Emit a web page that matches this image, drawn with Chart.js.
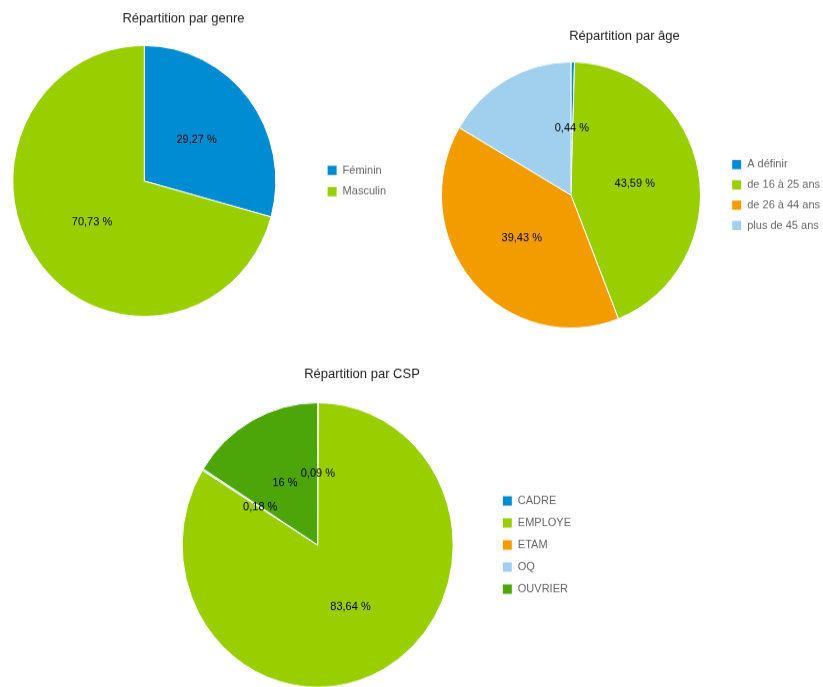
<!DOCTYPE html>
<html>
<head>
<meta charset="utf-8">
<script src="https://cdn.jsdelivr.net/npm/chart.js@4"></script>
<style>
  body { margin: 0; background: #fff; overflow: hidden; width: 823px; height: 687px; position: relative; }
  .wrap { position: absolute; }
  .wrap canvas { display: block; }
</style>
</head>
<body>
<div class="wrap" id="wrap-genre"><canvas id="chart-genre"></canvas></div>
<div class="wrap" id="wrap-age"><canvas id="chart-age"></canvas></div>
<div class="wrap" id="wrap-csp"><canvas id="chart-csp"></canvas></div>
<script>
// --- data ---
const genreTitle = 'Répartition par genre';
const genreLabels = ['Féminin', 'Masculin'];
const genreValues = [29.27, 70.73];

const ageTitle = 'Répartition par âge';
const ageLabels = ['A définir', 'de 16 à 25 ans', 'de 26 à 44 ans', 'plus de 45 ans'];
const ageValues = [0.44, 43.59, 39.43, 16.54];

const cspTitle = 'Répartition par CSP';
const cspLabels = ['CADRE', 'EMPLOYE', 'ETAM', 'OQ', 'OUVRIER'];
const cspValues = [0.09, 83.64, 0, 0.18, 16];

const PALETTE = ['#008cd2', '#99cf00', '#f39c00', '#a1d0ee', '#4ca60a'];
const FONT = '"Liberation Sans", Arial, sans-serif';

function maxTextWidth(list, size) {
    const ctx = document.createElement('canvas').getContext('2d');
    ctx.font = size + 'px ' + FONT;
    return Math.max(...list.map(t => ctx.measureText(t).width));
}

function fmt(v) {
    return String(v).replace('.', ',') + ' %';
}

// percentage labels in the middle of each slice, skipped when they collide
const sliceLabels = {
    id: 'sliceLabels',
    afterDatasetsDraw(chart) {
        const ctx = chart.ctx;
        const meta = chart.getDatasetMeta(0);
        const values = chart.data.datasets[0].data;
        const placed = [];
        ctx.save();
        ctx.font = '11px ' + FONT;
        ctx.fillStyle = '#000';
        ctx.textAlign = 'center';
        ctx.textBaseline = 'middle';
        meta.data.forEach((arc, i) => {
            if (!values[i]) return;
            const txt = fmt(values[i]);
            const p = arc.tooltipPosition();
            const w = ctx.measureText(txt).width;
            const b = { l: p.x - w / 2 - 1, r: p.x + w / 2 + 1, t: p.y - 7, b: p.y + 7 };
            if (placed.some(o => b.l < o.r && b.r > o.l && b.t < o.b && b.b > o.t)) return;
            placed.push(b);
            ctx.fillText(txt, p.x, p.y);
        });
        ctx.restore();
    }
};

function pieChart(name, title, labels, values, lay) {
    const legendLeft = lay.boxLeft - lay.pad;
    const areaLeft = 2 * lay.cx - legendLeft;
    const legendW = lay.pad + 10 + 5.5 + maxTextWidth(labels, 11) + 10;
    const width = Math.round(legendLeft - areaLeft + legendW);

    const wrap = document.getElementById('wrap-' + name);
    wrap.style.left = areaLeft + 'px';
    wrap.style.top = lay.top + 'px';
    wrap.style.transformOrigin = '0 ' + (lay.cy - lay.top) + 'px';
    wrap.style.transform = 'scaleY(' + lay.stretch + ')';

    const canvas = document.getElementById('chart-' + name);
    canvas.width = width;
    canvas.height = lay.height;

    return new Chart(canvas, {
        type: 'pie',
        data: {
            labels: labels,
            datasets: [{
                data: values,
                backgroundColor: PALETTE.slice(0, labels.length),
                borderColor: '#ffffff',
                borderWidth: 1
            }]
        },
        options: {
            responsive: false,
            animation: false,
            devicePixelRatio: 1,
            layout: { padding: 0 },
            plugins: {
                title: {
                    display: true,
                    text: title,
                    color: '#222',
                    font: { family: FONT, size: 13, weight: 'normal' },
                    padding: lay.titlePad
                },
                legend: {
                    position: 'right',
                    fullSize: false,
                    labels: {
                        boxWidth: 10,
                        boxHeight: 10,
                        padding: lay.pad,
                        color: '#666',
                        font: { family: FONT, size: 11 }
                    }
                },
                tooltip: { enabled: false }
            }
        },
        plugins: [sliceLabels]
    });
}

pieChart('genre', genreTitle, genreLabels, genreValues, {
    cx: 144, cy: 181, boxLeft: 327, pad: 9.5, top: 0, height: 313,
    titlePad: { top: 16, bottom: 17.4 }, stretch: 1.03
});
pieChart('age', ageTitle, ageLabels, ageValues, {
    cx: 571, cy: 195, boxLeft: 732, pad: 8.8, top: 0, height: 325,
    titlePad: { top: 32.9, bottom: 16.5 }, stretch: 1.027
});
pieChart('csp', cspTitle, cspLabels, cspValues, {
    cx: 317.5, cy: 545, boxLeft: 502, pad: 10, top: 360, height: 321,
    titlePad: { top: 14.3, bottom: 19.1 }, stretch: 1.05
});
</script>
</body>
</html>
